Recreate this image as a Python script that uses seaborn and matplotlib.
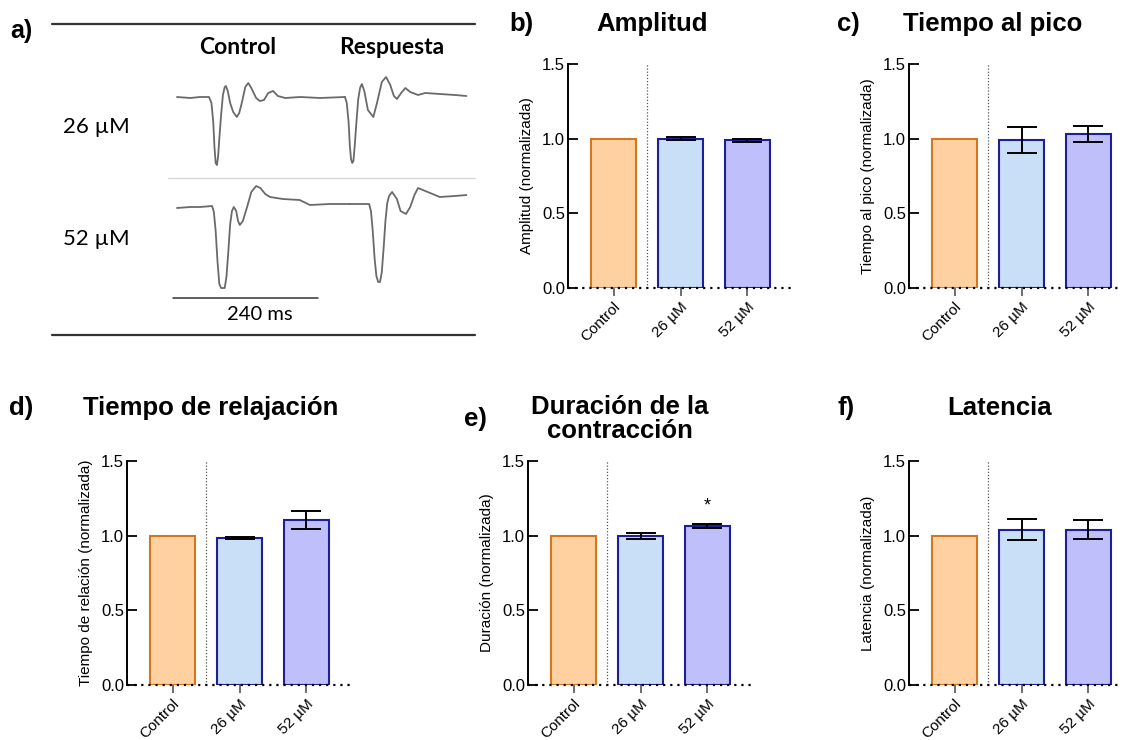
import numpy as np
import pandas as pd
import matplotlib
matplotlib.use("Agg")
import matplotlib.pyplot as plt
import seaborn as sns

# ---------------- data ----------------
groups = ["Control", "26 µM", "52 µM"]

amplitud_mean = [1.00, 1.00, 0.99]
amplitud_err = [0.0, 0.010, 0.010]

pico_mean = [1.00, 0.99, 1.03]
pico_err = [0.0, 0.087, 0.055]

relaj_mean = [1.00, 0.985, 1.105]
relaj_err = [0.0, 0.008, 0.060]

durac_mean = [1.00, 1.00, 1.064]
durac_err = [0.0, 0.021, 0.011]

laten_mean = [1.00, 1.04, 1.04]
laten_err = [0.0, 0.072, 0.062]

yticks = [0.0, 0.5, 1.0, 1.5]
ytick_labels = ["0.0", "0.5", "1.0", "1.5"]

# example traces (time in ms, signal in arbitrary units)
t_26_ctrl = [0, 22, 38, 53, 57, 60, 62, 64, 66, 68, 70, 73, 76, 79, 81, 84, 88, 93, 99, 103, 108, 113, 118, 123, 131, 137, 144, 151, 159, 167, 179, 204, 237, 278]
s_26_ctrl = [0, -1, 0, 0, -6, -25, -50, -66, -68, -60, -42, -18, 2, 10, 11, 6, -6, -15, -20, -16, -4, 10, 14, 9, -1, -4, -3, 4, 6, 1, -1, 0, -1, 0]
t_26_resp = [278, 281, 284, 286, 288, 290, 292, 294, 297, 300, 303, 306, 310, 316, 325, 331, 339, 346, 353, 359, 364, 371, 378, 386, 399, 411, 435, 460, 479]
s_26_resp = [0, -6, -25, -48, -62, -66, -64, -50, -25, -2, 9, 13, 6, -13, -20, -6, 15, 20, 12, 1, -2, 4, 9, 5, 2, 4, 3, 2, 1]
t_52_ctrl = [0, 22, 38, 58, 61, 64, 67, 70, 73, 79, 82, 85, 88, 91, 94, 98, 101, 104, 109, 116, 123, 131, 138, 146, 154, 175, 203, 220, 253, 286]
s_52_ctrl = [-2, -1, -1, 0, -6, -25, -55, -78, -82, -82, -70, -45, -18, -5, -1, -5, -15, -19, -15, -1, 14, 20, 18, 12, 9, 7, 6, 1, 2, 2]
t_52_resp = [286, 318, 321, 324, 327, 330, 333, 336, 339, 342, 345, 348, 351, 356, 364, 370, 379, 386, 393, 399, 411, 435, 460, 479]
s_52_resp = [2, 2, -5, -25, -52, -70, -76, -76, -66, -42, -15, 3, 10, 14, 7, -5, -8, -1, 11, 18, 15, 9, 10, 11]

# ---------------- styling ----------------
fill_colors = ["#FFD1A1", "#C9DEF7", "#BFBFFC"]
edge_colors = ["#D4751F", "#1F1F95", "#1F1F95"]

sns.set_theme(style="ticks")
plt.rcParams["font.family"] = ["Liberation Sans", "DejaVu Sans"]
for k in ["text.color", "axes.labelcolor", "xtick.color", "ytick.color", "axes.edgecolor"]:
    plt.rcParams[k] = "black"

W, H = 1122, 740
fig = plt.figure(figsize=(W / 100, H / 100), dpi=100)


def px_axes(left, top, width, height):
    return fig.add_axes([left / W, 1 - (top + height) / H, width / W, height / H])


def ftext(x, y, s, **kw):
    fig.text(x / W, 1 - y / H, s, **kw)


# ---------------- panel a: traces ----------------
PX_PER_MS = 145 / 240.0
X0 = 177
ax_a = px_axes(0, 0, 480, 345)
ax_a.set_xlim(-X0 / PX_PER_MS, (480 - X0) / PX_PER_MS)
ax_a.set_ylim(-345, 0)
ax_a.axis("off")


def ms(px):
    return (px - X0) / PX_PER_MS


trace_kw = dict(color="#6a6a6a", lw=1.3, solid_joinstyle="round")
base26, base52 = -97, -206
ax_a.plot(t_26_ctrl, np.array(s_26_ctrl) + base26, **trace_kw)
ax_a.plot(t_26_resp, np.array(s_26_resp) + base26, **trace_kw)
ax_a.plot(t_52_ctrl, np.array(s_52_ctrl) + base52, **trace_kw)
ax_a.plot(t_52_resp, np.array(s_52_resp) + base52, **trace_kw)

ax_a.plot([ms(52), ms(475)], [-23.5, -23.5], color="#333333", lw=1.6)
ax_a.plot([ms(52), ms(475)], [-335, -335], color="#333333", lw=1.6)
ax_a.plot([ms(168), ms(475)], [-178, -178], color="#d4d4d4", lw=0.9)
ax_a.plot([ms(173), ms(173) + 240], [-298, -298], color="#333333", lw=1.1)

lato = ["Lato", "DejaVu Sans"]
ftext(238, 47, "Control", ha="center", va="center", fontsize=16.5, fontweight="bold", family=lato)
ftext(392, 47, "Respuesta", ha="center", va="center", fontsize=16.5, fontweight="bold", family=lato)
ftext(96, 127, "26 µM", ha="center", va="center", fontsize=16, family=lato)
ftext(96, 239, "52 µM", ha="center", va="center", fontsize=16, family=lato)
ftext(260, 315, "240 ms", ha="center", va="center", fontsize=14.5, family=lato)
ftext(10, 31, "a)", ha="left", va="center", fontsize=18, fontweight="bold")

# ---------------- bar panels ----------------
panels = [
    ("b)", "Amplitud", "Amplitud (normalizada)", amplitud_mean, amplitud_err, 568, 64, 509, 652, 24),
    ("c)", "Tiempo al pico", "Tiempo al pico (normalizada)", pico_mean, pico_err, 909, 64, 837, 993, 24),
    ("d)", "Tiempo de relajación", "Tiempo de relación (normalizada)", relaj_mean, relaj_err, 127, 461, 9, 211, 408),
    ("e)", "Duración de la\ncontracción", "Duración (normalizada)", durac_mean, durac_err, 528, 461, 464, 620, 419),
    ("f)", "Latencia", "Latencia (normalizada)", laten_mean, laten_err, 909, 461, 837, 1000, 408),
]

AX_W, AX_H = 225, 224
for lab, title, ylab, means, errs, left, top, labx, titx, tity in panels:
    ax = px_axes(left, top, AX_W, AX_H)
    df = pd.DataFrame({"grupo": groups, "valor": means})
    sns.barplot(data=df, x="grupo", y="valor", hue="grupo", palette=fill_colors,
                saturation=1, width=0.66, legend=False, ax=ax, errorbar=None)
    for i, cont in enumerate(ax.containers):
        for p in cont:
            p.set_edgecolor(edge_colors[i])
            p.set_linewidth(1.5)
    xs = np.arange(len(groups))
    ax.errorbar(xs[1:], means[1:], yerr=errs[1:], fmt="none", ecolor="black",
                elinewidth=1.4, capsize=11, capthick=1.4, zorder=5)
    ax.set_xlim(-0.68, 2.68)
    ax.set_ylim(0, 1.5)
    ax.set_yticks(yticks)
    ax.set_yticklabels(ytick_labels, fontsize=12)
    ax.set_xlabel("")
    ax.set_ylabel(ylab, fontsize=11, labelpad=6)
    ax.set_xticks(xs)
    ax.set_xticklabels(groups, fontsize=11, rotation=45, ha="right",
                       rotation_mode="anchor")
    ax.tick_params(axis="y", direction="in", length=7, width=1.3, pad=2, color="black")
    ax.tick_params(axis="x", direction="out", length=5.5, width=1.2, pad=3, color="#555555")
    for s in ["top", "right", "bottom"]:
        ax.spines[s].set_visible(False)
    ax.spines["left"].set_linewidth(1.4)
    ax.spines["left"].set_color("black")
    ax.axhline(0, color="black", lw=1.6, ls=(0, (1, 2.2)), clip_on=False, zorder=6)
    ax.plot([0.5, 0.5], [0, 1.5], color="#555555", lw=0.9, ls=(0, (1, 1.5)))
    if lab == "e)":
        ax.text(2, 1.196, "*", ha="center", va="center", fontsize=13)
    ftext(labx, tity, lab, ha="left", va="center", fontsize=18.5, fontweight="bold")
    ftext(titx, tity, title, ha="center", va="center", fontsize=18.5,
          fontweight="bold", linespacing=1.05)

fig.savefig("out.png", dpi=100)
